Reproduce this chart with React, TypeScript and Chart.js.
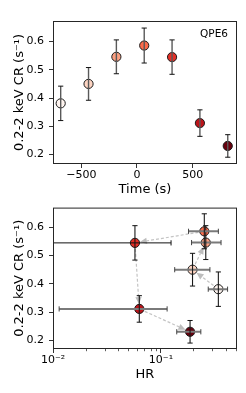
import React, { useEffect, useRef } from "react";
import { Chart, registerables } from "chart.js";
Chart.register(...registerables);

const times = [-685, -435, -185, 65, 315, 565, 815];
const rates = [0.381, 0.45, 0.546, 0.586, 0.545, 0.311, 0.23];
const rateErrs = [0.061, 0.058, 0.06, 0.062, 0.061, 0.047, 0.04];
const hr = [0.34, 0.196, 0.26, 0.252, 0.0574, 0.063, 0.186];
const hrLow = [0.274, 0.134, 0.192, 0.18, 0.001, 0.0114, 0.14];
const hrHigh = [0.414, 0.284, 0.36, 0.34, 0.124, 0.114, 0.234];
const pointColors = ["#fff5f0", "#fdd4c2", "#fc9f81", "#fb6a4a", "#e32f27", "#bc141a", "#67000d"];
const timeTicks = [-500, 0, 500];
const rateTicks = [0.2, 0.3, 0.4, 0.5, 0.6];
const hrTicks = [0.01, 0.1];
const hrTickLabels = ["10⁻²", "10⁻¹"];
const hrMinorTicks = [0.02, 0.03, 0.04, 0.05, 0.06, 0.07, 0.08, 0.09, 0.2, 0.3, 0.4, 0.5];
const panelLabel = "QPE6";
const yTitle = "0.2-2 keV CR (s⁻¹)";
const xTitleTop = "Time (s)";
const xTitleBottom = "HR";

const FONT = "DejaVu Sans";

const framePlugin = {
  id: "frame",
  afterDraw(chart: any) {
    const { ctx, chartArea: a } = chart;
    ctx.save();
    ctx.strokeStyle = "#262626";
    ctx.lineWidth = 1;
    ctx.strokeRect(a.left + 0.5, a.top + 0.5, a.right - a.left - 1, a.bottom - a.top - 1);
    ctx.restore();
  },
};

function vBar(ctx: any, px: number, y1: number, y2: number, color: string, w: number, capColor: string) {
  ctx.strokeStyle = color;
  ctx.lineWidth = w;
  ctx.beginPath();
  ctx.moveTo(px, y1);
  ctx.lineTo(px, y2);
  ctx.stroke();
  ctx.strokeStyle = capColor;
  ctx.lineWidth = 1;
  ctx.beginPath();
  ctx.moveTo(px - 2.6, y1);
  ctx.lineTo(px + 2.6, y1);
  ctx.moveTo(px - 2.6, y2);
  ctx.lineTo(px + 2.6, y2);
  ctx.stroke();
}

function hBar(ctx: any, py: number, x1: number, x2: number, color: string, w: number, capColor: string, capL: boolean) {
  ctx.strokeStyle = color;
  ctx.lineWidth = w;
  ctx.beginPath();
  ctx.moveTo(x1, py);
  ctx.lineTo(x2, py);
  ctx.stroke();
  ctx.strokeStyle = capColor;
  ctx.lineWidth = 1;
  ctx.beginPath();
  if (capL) {
    ctx.moveTo(x1, py - 2.6);
    ctx.lineTo(x1, py + 2.6);
  }
  ctx.moveTo(x2, py - 2.6);
  ctx.lineTo(x2, py + 2.6);
  ctx.stroke();
}

const topErrPlugin = {
  id: "topErr",
  afterDatasetsDraw(chart: any) {
    const { ctx, scales, chartArea: a } = chart;
    const x = scales.x, y = scales.y;
    ctx.save();
    ctx.beginPath();
    ctx.rect(a.left, a.top, a.right - a.left, a.bottom - a.top);
    ctx.clip();
    times.forEach((t, i) => {
      const px = x.getPixelForValue(t);
      const y1 = y.getPixelForValue(rates[i] - rateErrs[i]);
      const y2 = y.getPixelForValue(rates[i] + rateErrs[i]);
      vBar(ctx, px, y1, y2, "#595959", 1.4, "#111");
    });
    ctx.restore();
  },
};

const labelPlugin = {
  id: "panelLabel",
  afterDraw(chart: any) {
    const { ctx, chartArea: a } = chart;
    ctx.save();
    ctx.font = `10.5px "${FONT}"`;
    ctx.fillStyle = "#000";
    ctx.textAlign = "right";
    ctx.textBaseline = "middle";
    ctx.fillText(panelLabel, a.right - 9, a.top + 13);
    ctx.restore();
  },
};

const bottomErrPlugin = {
  id: "bottomErr",
  afterDatasetsDraw(chart: any) {
    const { ctx, scales, chartArea: a } = chart;
    const x = scales.x, y = scales.y;
    ctx.save();
    ctx.beginPath();
    ctx.rect(a.left, a.top, a.right - a.left, a.bottom - a.top);
    ctx.clip();
    hr.forEach((h, i) => {
      const px = x.getPixelForValue(h);
      const py = y.getPixelForValue(rates[i]);
      const clipped = hrLow[i] < x.min;
      const x1 = x.getPixelForValue(Math.max(hrLow[i], x.min / 2));
      const x2 = x.getPixelForValue(hrHigh[i]);
      if (clipped) hBar(ctx, py, x1, x2, "#111", 1, "#111", false);
      else hBar(ctx, py, x1, x2, "#7a7a7a", 2, "#444", true);
      const y1 = y.getPixelForValue(rates[i] - rateErrs[i]);
      const y2 = y.getPixelForValue(rates[i] + rateErrs[i]);
      vBar(ctx, px, y1, y2, "#1a1a1a", 1.1, "#111");
    });
    ctx.restore();
  },
};

const arrowPlugin = {
  id: "arrows",
  beforeDatasetsDraw(chart: any) {
    const { ctx, scales } = chart;
    const x = scales.x, y = scales.y;
    ctx.save();
    for (let i = 0; i < hr.length - 1; i++) {
      const x0 = x.getPixelForValue(hr[i]);
      const y0 = y.getPixelForValue(rates[i]);
      const x1 = x.getPixelForValue(hr[i + 1]);
      const y1 = y.getPixelForValue(rates[i + 1]);
      const dx = x1 - x0, dy = y1 - y0;
      const len = Math.hypot(dx, dy);
      const shrinkA = 6, shrinkB = 5, head = 7;
      if (len < shrinkA + shrinkB + head) continue;
      const ux = dx / len, uy = dy / len;
      const sx = x0 + ux * shrinkA, sy = y0 + uy * shrinkA;
      const tx = x1 - ux * shrinkB, ty = y1 - uy * shrinkB;
      const bx = tx - ux * head, by = ty - uy * head;
      ctx.strokeStyle = "#c4c4c4";
      ctx.lineWidth = 1.2;
      ctx.setLineDash([3, 2]);
      ctx.beginPath();
      ctx.moveTo(sx, sy);
      ctx.lineTo(bx, by);
      ctx.stroke();
      ctx.setLineDash([]);
      ctx.fillStyle = "#bdbdbd";
      ctx.beginPath();
      ctx.moveTo(tx, ty);
      ctx.lineTo(bx - uy * 3.2, by + ux * 3.2);
      ctx.lineTo(bx + uy * 3.2, by - ux * 3.2);
      ctx.closePath();
      ctx.fill();
    }
    ctx.restore();
  },
};

const minorTickPlugin = {
  id: "minorTicks",
  afterDraw(chart: any) {
    const { ctx, scales, chartArea: a } = chart;
    const x = scales.x;
    ctx.save();
    ctx.strokeStyle = "#333";
    ctx.lineWidth = 0.8;
    ctx.beginPath();
    hrMinorTicks.forEach((v) => {
      if (v <= x.min || v >= x.max) return;
      const px = Math.round(x.getPixelForValue(v)) + 0.5;
      ctx.moveTo(px, a.bottom);
      ctx.lineTo(px, a.bottom + 2.2);
    });
    ctx.stroke();
    ctx.restore();
  },
};

const tickFont = { family: FONT, size: 11 };
const titleFont = { family: FONT, size: 13 };
const gridOpts = { display: true, drawOnChartArea: false, drawTicks: true, tickLength: 4, color: "#333", lineWidth: 1 };

function baseY(min: number, max: number) {
  return {
    type: "linear" as const,
    min,
    max,
    afterFit: (s: any) => { s.width = 53; },
    afterBuildTicks: (s: any) => { s.ticks = rateTicks.map((v) => ({ value: v })); },
    ticks: { font: tickFont, color: "#000", padding: 5, callback: (v: any) => Number(v).toFixed(1) },
    grid: gridOpts,
    border: { display: false },
    title: { display: true, text: yTitle, font: titleFont, color: "#000", padding: { top: 12, bottom: 0 } },
  };
}

export default function App() {
  const topRef = useRef<HTMLCanvasElement>(null);
  const botRef = useRef<HTMLCanvasElement>(null);

  useEffect(() => {
    const top = new Chart(topRef.current!, {
      type: "scatter",
      data: {
        datasets: [
          {
            data: times.map((t, i) => ({ x: t, y: rates[i] })),
            pointBackgroundColor: pointColors,
            pointBorderColor: "#1a1a1a",
            pointBorderWidth: 1,
            pointRadius: 4.6,
            showLine: false,
          },
        ],
      },
      options: {
        animation: false,
        responsive: false,
        events: [],
        layout: { padding: { top: 21, right: 9, left: 0, bottom: 0 } },
        plugins: { legend: { display: false }, tooltip: { enabled: false } },
        scales: {
          x: {
            type: "linear",
            min: -754,
            max: 898,
            afterFit: (s: any) => { s.height = 41; },
            afterBuildTicks: (s: any) => { s.ticks = timeTicks.map((v) => ({ value: v })); },
            ticks: {
              font: tickFont,
              color: "#000",
              padding: 1,
              maxRotation: 0,
              callback: (v: any) => (Number(v) < 0 ? "\u2212" + Math.abs(Number(v)) : String(v)),
            },
            grid: gridOpts,
            border: { display: false },
            title: { display: true, text: xTitleTop, font: titleFont, color: "#000", padding: { top: 0, bottom: 7.2 } },
          },
          y: baseY(0.166, 0.673),
        },
      },
      plugins: [topErrPlugin, framePlugin, labelPlugin],
    } as any);

    const bot = new Chart(botRef.current!, {
      type: "scatter",
      data: {
        datasets: [
          {
            data: hr.map((h, i) => ({ x: h, y: rates[i] })),
            pointBackgroundColor: pointColors,
            pointBorderColor: "#1a1a1a",
            pointBorderWidth: 1,
            pointRadius: 4.6,
            showLine: false,
          },
        ],
      },
      options: {
        animation: false,
        responsive: false,
        events: [],
        layout: { padding: { top: 10.7, right: 9, left: 0, bottom: 0 } },
        plugins: { legend: { display: false }, tooltip: { enabled: false } },
        scales: {
          x: {
            type: "logarithmic",
            min: 0.01,
            max: 0.506,
            afterFit: (s: any) => { s.height = 44; },
            afterBuildTicks: (s: any) => { s.ticks = hrTicks.map((v) => ({ value: v, major: true })); },
            ticks: {
              font: tickFont,
              color: "#000",
              padding: 1,
              maxRotation: 0,
              autoSkip: false,
              callback: (_v: any, idx: number) => hrTickLabels[idx],
            },
            grid: gridOpts,
            border: { display: false },
            title: { display: true, text: xTitleBottom, font: titleFont, color: "#000", padding: { top: 0, bottom: 10.2 } },
          },
          y: baseY(0.169, 0.67),
        },
      },
      plugins: [arrowPlugin, bottomErrPlugin, framePlugin, minorTickPlugin],
    } as any);

    return () => {
      top.destroy();
      bot.destroy();
    };
  }, []);

  return (
    <div style={{ position: "absolute", left: 0, top: 0, width: 246, height: 393, background: "#fff", overflow: "hidden" }}>
      <canvas ref={topRef} width={246} height={205} style={{ position: "absolute", left: 0, top: 0, width: 246, height: 205 }} />
      <canvas ref={botRef} width={246} height={197} style={{ position: "absolute", left: 0, top: 196, width: 246, height: 197 }} />
    </div>
  );
}
